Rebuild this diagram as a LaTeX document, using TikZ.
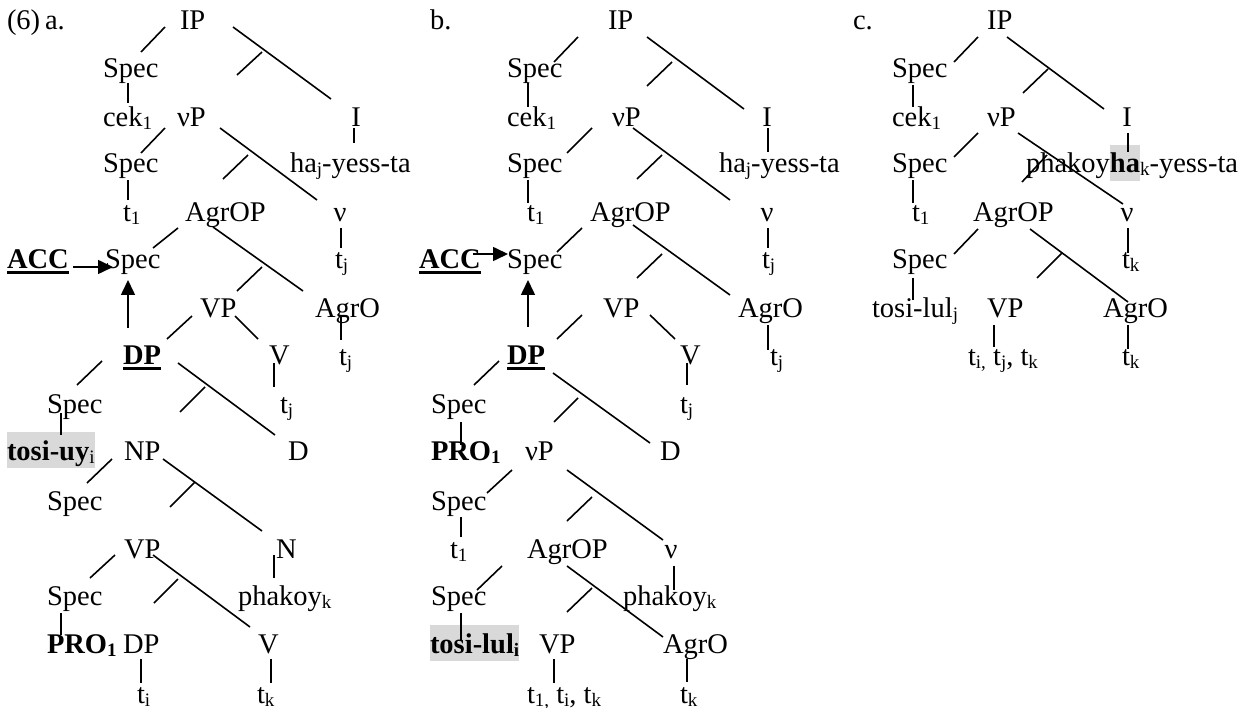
\documentclass[tikz,border=0pt]{standalone}
\usepackage{fontspec}
\setmainfont{Liberation Serif}
\usetikzlibrary{arrows.meta}
\definecolor{hl}{RGB}{217,217,217}
\setlength{\fboxsep}{0pt}
\newcommand{\sub}[1]{\raisebox{-3pt}{\fontsize{19}{19}\selectfont #1}}
\newsavebox{\ulbox}
\newcommand{\myul}[1]{\sbox{\ulbox}{#1}\rlap{\rule[-5pt]{\wd\ulbox}{2.6pt}}\usebox{\ulbox}}
\newcommand{\hlt}[1]{\colorbox{hl}{\rule[-8pt]{0pt}{36pt}#1}}
\tikzset{
  lab/.style={anchor=base west, inner sep=0pt, outer sep=0pt},
  labc/.style={anchor=base, inner sep=0pt, outer sep=0pt},
  br/.style={line width=1.6pt},
  arr/.style={line width=1.6pt, -{Triangle[length=15pt,width=14pt]}}
}
\begin{document}
\begin{tikzpicture}[x=1pt,y=-1pt,font=\fontsize{28.5}{34}\selectfont]
\useasboundingbox (0,0) rectangle (1247,708);
% ================= tree a =================
\node[lab] (num) at (7,30) {(6)};
\node[lab] (la) at (45,30) {a.};
\node[lab] (IPa) at (180,30) {IP};
\node[lab] (SpA1) at (103,78) {Spec};
\node[lab] (cekA) at (103,127) {cek\sub{1}};
\node[lab] (vPa) at (177,127) {νP};
\node[labc] (Ia) at (356,127) {I};
\node[lab] (SpA2) at (103,173) {Spec};
\node[lab] (haA) at (290,173) {ha\sub{j}-yess-ta};
\node[lab] (t1A) at (123,222) {t\sub{1}};
\node[lab] (AgrOPa) at (185,222) {AgrOP};
\node[labc] (nuA) at (340,222) {ν};
\node[lab] (ACCa) at (7,269) {\myul{\textbf{ACC}}};
\node[lab] (SpA3) at (105,269) {Spec};
\node[lab] (tjA1) at (335,269) {t\sub{j}};
\node[lab] (VPa) at (200,318) {VP};
\node[lab] (AgrOa) at (315,318) {AgrO};
\node[lab] (DPa) at (123,365) {\myul{\textbf{DP}}};
\node[lab] (Va) at (269,365) {V};
\node[lab] (tjA2) at (339,366) {t\sub{j}};
\node[lab] (SpA4) at (47,413) {Spec};
\node[lab] (tjA3) at (280,413) {t\sub{j}};
\node[lab] (tosiA) at (7,460) {\hlt{\textbf{tosi-uy}\sub{i}}};
\node[lab] (NPa) at (124,460) {NP};
\node[lab] (Da) at (288,460) {D};
\node[lab] (SpA5) at (47,510) {Spec};
\node[lab] (VPa2) at (124,558) {VP};
\node[lab] (Na) at (276,558) {N};
\node[lab] (SpA6) at (47,605) {Spec};
\node[lab] (phA) at (238,605) {phakoy\sub{k}};
\node[lab] (PROa) at (47,653) {\textbf{PRO\sub{1}}};
\node[lab] (DPa2) at (123,653) {DP};
\node[lab] (Va2) at (258,653) {V};
\node[lab] (tiA) at (137,703) {t\sub{i}};
\node[lab] (tkA) at (257,703) {t\sub{k}};
\draw[br] (165,27)--(141,52);
\draw[br] (233,27)--(331,99);
\draw[br] (262,52)--(237,75);
\draw[br] (128,83)--(128,103);
\draw[br] (165,128)--(141,153);
\draw[br] (220,128)--(317,200);
\draw[br] (248,155)--(223,179);
\draw[br] (354,128)--(354,143);
\draw[br] (128,180)--(128,200);
\draw[br] (178,228)--(153,248);
\draw[br] (213,227)--(303,291);
\draw[br] (262,267)--(237,291);
\draw[br] (341,228)--(341,248);
\draw[arr] (73,267)--(113,267);
\draw[arr] (128,328)--(128,280);
\draw[br] (192,316)--(167,339);
\draw[br] (235,316)--(258,339);
\draw[br] (341,316)--(341,340);
\draw[br] (102,361)--(77,385);
\draw[br] (178,363)--(275,435);
\draw[br] (205,387)--(180,412);
\draw[br] (274,363)--(274,387);
\draw[br] (61,413)--(61,435);
\draw[br] (112,459)--(87,483);
\draw[br] (163,459)--(262,531);
\draw[br] (195,482)--(170,507);
\draw[br] (115,555)--(90,578);
\draw[br] (153,555)--(250,627);
\draw[br] (178,579)--(154,603);
\draw[br] (274,555)--(274,578);
\draw[br] (61,613)--(61,635);
\draw[br] (141,659)--(141,683);
\draw[br] (271,659)--(271,683);
% ================= tree b =================
\node[lab] (lb) at (430,30) {b.};
\node[lab] (IPb) at (608,30) {IP};
\node[lab] (SpB1) at (507,78) {Spec};
\node[lab] (cekB) at (507,127) {cek\sub{1}};
\node[lab] (vPb) at (612,127) {νP};
\node[labc] (Ib) at (767,127) {I};
\node[lab] (SpB2) at (507,173) {Spec};
\node[lab] (haB) at (719,173) {ha\sub{j}-yess-ta};
\node[lab] (t1B) at (527,222) {t\sub{1}};
\node[lab] (AgrOPb) at (590,222) {AgrOP};
\node[labc] (nuB) at (767,222) {ν};
\node[lab] (ACCb) at (419,269) {\myul{\textbf{ACC}}};
\node[lab] (SpB3) at (507,269) {Spec};
\node[lab] (tjB1) at (762,269) {t\sub{j}};
\node[lab] (VPb) at (603,318) {VP};
\node[lab] (AgrOb) at (738,318) {AgrO};
\node[lab] (DPb) at (507,365) {\myul{\textbf{DP}}};
\node[lab] (Vb) at (680,365) {V};
\node[lab] (tjB2) at (770,366) {t\sub{j}};
\node[lab] (SpB4) at (431,413) {Spec};
\node[lab] (tjB3) at (680,413) {t\sub{j}};
\node[lab] (PROb) at (431,460) {\textbf{PRO\sub{1}}};
\node[lab] (vPb2) at (525,460) {νP};
\node[lab] (Db) at (660,460) {D};
\node[lab] (SpB5) at (431,510) {Spec};
\node[lab] (t1B2) at (450,558) {t\sub{1}};
\node[lab] (AgrOPb2) at (527,558) {AgrOP};
\node[labc] (nuB2) at (671,558) {ν};
\node[lab] (SpB6) at (431,605) {Spec};
\node[lab] (phB) at (623,605) {phakoy\sub{k}};
\node[lab] (tosiB) at (430,653) {\hlt{\textbf{tosi-lul\sub{i}}}};
\node[lab] (VPb2) at (539,653) {VP};
\node[lab] (AgrOb2) at (663,653) {AgrO};
\node[lab] (tlB) at (527,703) {t\sub{1,} t\sub{i}, t\sub{k}};
\node[lab] (tkB) at (680,703) {t\sub{k}};
\draw[br] (578,37)--(554,62);
\draw[br] (647,37)--(744,109);
\draw[br] (672,62)--(647,86);
\draw[br] (528,83)--(528,107);
\draw[br] (592,128)--(567,153);
\draw[br] (633,128)--(730,200);
\draw[br] (662,155)--(637,179);
\draw[br] (768,128)--(768,152);
\draw[br] (528,180)--(528,203);
\draw[br] (582,228)--(557,252);
\draw[br] (633,225)--(730,295);
\draw[br] (662,254)--(637,278);
\draw[br] (768,228)--(768,248);
\draw[arr] (473,254)--(508,254);
\draw[arr] (528,327)--(528,280);
\draw[br] (582,315)--(557,339);
\draw[br] (650,315)--(675,339);
\draw[br] (768,325)--(768,350);
\draw[br] (499,361)--(474,385);
\draw[br] (553,373)--(650,443);
\draw[br] (578,398)--(554,422);
\draw[br] (687,363)--(687,385);
\draw[br] (461,422)--(461,445);
\draw[br] (512,470)--(487,493);
\draw[br] (567,470)--(663,540);
\draw[br] (592,497)--(567,521);
\draw[br] (461,517)--(461,537);
\draw[br] (674,566)--(674,590);
\draw[br] (502,566)--(477,590);
\draw[br] (567,566)--(663,637);
\draw[br] (592,588)--(567,612);
\draw[br] (461,613)--(461,640);
\draw[br] (554,659)--(554,683);
\draw[br] (687,659)--(687,682);
% ================= tree c =================
\node[lab] (lc) at (853,30) {c.};
\node[lab] (IPc) at (987,30) {IP};
\node[lab] (SpC1) at (892,78) {Spec};
\node[lab] (cekC) at (892,127) {cek\sub{1}};
\node[lab] (vPc) at (987,127) {νP};
\node[labc] (Ic) at (1127,127) {I};
\node[lab] (SpC2) at (892,173) {Spec};
\node[lab] (phC) at (1026,173) {phakoy\hlt{\textbf{ha}}\sub{k}-yess-ta};
\node[lab] (t1C) at (912,222) {t\sub{1}};
\node[lab] (AgrOPc) at (973,222) {AgrOP};
\node[labc] (nuC) at (1127,222) {ν};
\node[lab] (SpC3) at (892,269) {Spec};
\node[lab] (tkC1) at (1122,269) {t\sub{k}};
\node[lab] (tosiC) at (872,318) {tosi-lul\sub{j}};
\node[lab] (VPc) at (987,318) {VP};
\node[lab] (AgrOc) at (1103,318) {AgrO};
\node[lab] (tlC) at (968,366) {t\sub{i,} t\sub{j}, t\sub{k}};
\node[lab] (tkC2) at (1122,366) {t\sub{k}};
\draw[br] (978,37)--(954,62);
\draw[br] (1007,37)--(1104,109);
\draw[br] (1048,69)--(1023,93);
\draw[br] (913,85)--(913,107);
\draw[br] (978,133)--(954,157);
\draw[br] (1018,133)--(1123,204);
\draw[br] (1047,155)--(1022,182);
\draw[br] (1128,133)--(1128,152);
\draw[br] (913,180)--(913,203);
\draw[br] (978,229)--(954,254);
\draw[br] (1030,229)--(1128,302);
\draw[br] (1062,253)--(1037,278);
\draw[br] (1128,228)--(1128,253);
\draw[br] (913,278)--(913,300);
\draw[br] (994,325)--(994,347);
\draw[br] (1128,325)--(1128,349);
\end{tikzpicture}
\end{document}
